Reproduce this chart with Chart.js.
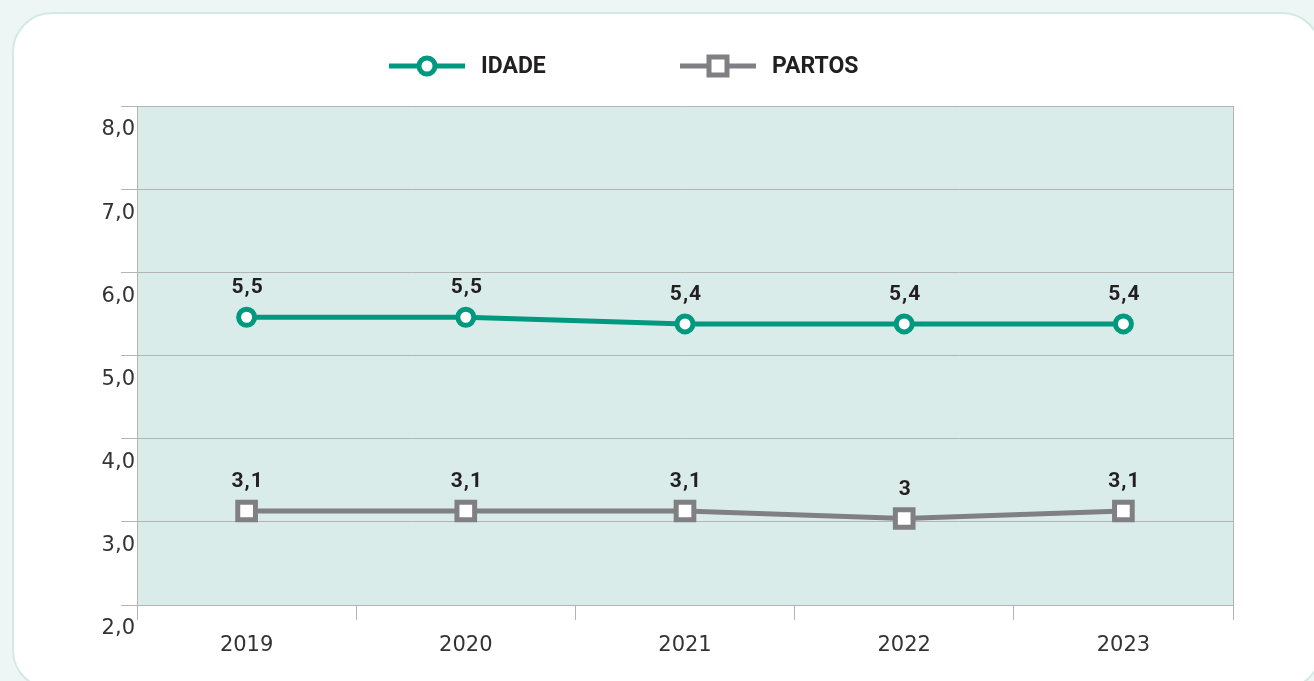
<!DOCTYPE html>
<html lang="pt">
<head>
<meta charset="utf-8">
<title>Idade e partos</title>
<script src="https://cdn.jsdelivr.net/npm/chart.js@4.4.1/dist/chart.umd.min.js"></script>
<style>
  html, body {
    margin: 0;
    padding: 0;
    width: 1314px;
    height: 681px;
    overflow: hidden;
    background: #edf6f5;
  }
  .card {
    position: absolute;
    left: 12px;
    top: 12px;
    width: 1310px;
    height: 678px;
    box-sizing: border-box;
    background: #fff;
    border: 2px solid #d3e9e6;
    border-radius: 40px;
  }
  #chart {
    position: absolute;
    left: 0;
    top: 0;
  }
</style>
</head>
<body>
<div class="card"></div>
<canvas id="chart" width="1314" height="681"></canvas>
<script>
  // data
  const years = ['2019', '2020', '2021', '2022', '2023'];
  const idade = [5.46, 5.46, 5.38, 5.38, 5.38];
  const partos = [3.13, 3.13, 3.13, 3.04, 3.13];
  const idadeLabels = ['5,5', '5,5', '5,4', '5,4', '5,4'];
  const partosLabels = ['3,1', '3,1', '3,1', '3', '3,1'];
  const yTickLabels = ['2,0', '3,0', '4,0', '5,0', '6,0', '7,0', '8,0'];

  const TEAL = '#00997f',
    GREY = '#808084',
    GRID = '#b4b4b4',
    INK = '#231f20';

  /**
   * plot area fill
   */
  const plotBg = {
    id: 'plotBg',
    beforeDraw: (chart) => {
      const { ctx, chartArea: a } = chart;
      ctx.save();
      ctx.fillStyle = '#d9ecea';
      ctx.fillRect(a.left, a.top, a.right - a.left, a.bottom - a.top);
      ctx.restore();
    }
  };

  /**
   * value labels above the points
   */
  const valueLabels = {
    id: 'valueLabels',
    afterDatasetsDraw: (chart) => {
      const ctx = chart.ctx;
      ctx.save();
      ctx.font = 'bold 21px Roboto';
      ctx.fillStyle = INK;
      ctx.textAlign = 'center';
      ctx.textBaseline = 'middle';
      ctx.letterSpacing = '1px';
      chart.data.datasets.forEach((ds, i) => {
        chart.getDatasetMeta(i).data.forEach((pt, j) => {
          ctx.fillText(ds.valueText[j], pt.x + 1, pt.y - 29);
        });
      });
      ctx.restore();
    }
  };

  /**
   * legend: line with marker, then bold name
   */
  const lineLegend = {
    id: 'lineLegend',
    afterDraw: (chart) => {
      const ctx = chart.ctx,
        y = 66,
        items = [{ x: 389, ds: 0 }, { x: 680, ds: 1 }];

      ctx.save();
      items.forEach((it) => {
        const ds = chart.data.datasets[it.ds],
          cx = it.x + 38;

        ctx.strokeStyle = ds.borderColor;
        ctx.lineWidth = 5;
        ctx.beginPath();
        ctx.moveTo(it.x, y);
        ctx.lineTo(it.x + 76, y);
        ctx.stroke();

        ctx.fillStyle = '#fff';
        ctx.beginPath();
        if (ds.pointStyle === 'rect') {
          ctx.rect(cx - 9, y - 9, 18, 18);
        } else {
          ctx.arc(cx, y, 8, 0, Math.PI * 2);
        }
        ctx.fill();
        ctx.stroke();

        ctx.fillStyle = INK;
        ctx.font = 'bold 23px Roboto';
        ctx.textBaseline = 'middle';
        ctx.fillText(ds.label, it.x + 92, y + 1);
      });
      ctx.restore();
    }
  };

  const initChart = () => {
    const el = document.getElementById('chart');

    new Chart(el, {
      type: 'line',
      data: {
        labels: years,
        datasets: [{
          label: 'IDADE',
          data: idade,
          valueText: idadeLabels,
          borderColor: TEAL,
          borderWidth: 5,
          pointStyle: 'circle',
          pointRadius: 8,
          pointBorderWidth: 5,
          pointBackgroundColor: '#fff',
          pointBorderColor: TEAL,
          tension: 0
        }, {
          label: 'PARTOS',
          data: partos,
          valueText: partosLabels,
          borderColor: GREY,
          borderWidth: 5,
          pointStyle: 'rect',
          pointRadius: 12.5,
          pointBorderWidth: 5,
          pointBackgroundColor: '#fff',
          pointBorderColor: GREY,
          tension: 0
        }]
      },
      options: {
        responsive: false,
        animation: false,
        events: [],
        layout: {
          padding: { left: 0, top: 106, right: 81, bottom: 0 }
        },
        plugins: {
          legend: { display: false },
          tooltip: { enabled: false }
        },
        scales: {
          x: {
            offset: true,
            grid: {
              offset: true,
              drawOnChartArea: true,
              color: (c) => (c.index === undefined ? GRID : 'rgba(0,0,0,0)'),
              tickColor: GRID,
              tickLength: 15
            },
            border: { color: GRID },
            ticks: {
              color: '#333',
              font: { family: 'DejaVu Sans', size: 21 },
              padding: 13,
              maxRotation: 0
            },
            afterFit: (scale) => { scale.height = 76; }
          },
          y: {
            min: 2,
            max: 8,
            grid: {
              color: GRID,
              tickLength: 16
            },
            border: { color: GRID },
            ticks: {
              stepSize: 1,
              color: '#333',
              font: { family: 'DejaVu Sans', size: 21 },
              padding: -14,
              labelOffset: 24,
              callback: (v, i) => yTickLabels[i]
            },
            afterFit: (scale) => { scale.width = 137; }
          }
        }
      },
      plugins: [plotBg, valueLabels, lineLegend]
    });
  };

  initChart();
</script>
</body>
</html>
